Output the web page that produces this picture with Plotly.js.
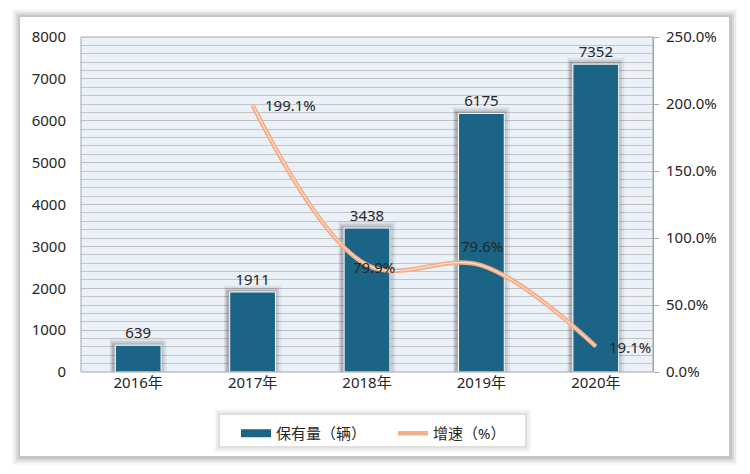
<!DOCTYPE html>
<html>
<head>
<meta charset="utf-8">
<script src="https://cdn.plot.ly/plotly-3.0.1.min.js"></script>
<style>html,body{margin:0;padding:0;background:#fff;}#chart{width:750px;height:474px;}</style>
</head>
<body>
<div id="chart"></div>
<script>
const years = ['2016年', '2017年', '2018年', '2019年', '2020年'];
const stock = [639, 1911, 3438, 6175, 7352];
const growthYears = ['2017年', '2018年', '2019年', '2020年'];
const growth = [199.1, 79.9, 79.6, 19.1];
const growthLabels = ['199.1%', '79.9%', '79.6%', '19.1%'];
const barName = '保有量（辆）';
const lineName = '增速（%）';

const FONT = "'Noto Sans', 'Noto Sans CJK SC', sans-serif";
const TXT = '#262626';
const FS = 15;

const traces = [];
// soft blurred shadows behind bars (offset towards the left/top)
[[0.50, -0.25, 150, 'rgba(0,0,0,0.06)'], [0.47, -0.24, 100, 'rgba(0,0,0,0.09)'], [0.44, -0.23, 50, 'rgba(0,0,0,0.13)']].forEach(s => {
  traces.push({
    type: 'bar', x: years, y: stock.map(v => v + s[2]), width: s[0], offset: s[1],
    marker: {color: s[3], line: {width: 0}}, showlegend: false, hoverinfo: 'skip'
  });
});
traces.push({
  type: 'bar', name: barName, x: years, y: stock, width: 0.4, offset: -0.2,
  marker: {color: '#1B6485', line: {color: '#ffffff', width: 1}},
  text: stock.map(String), textposition: 'outside', cliponaxis: false,
  textfont: {family: FONT, size: FS, color: TXT}, showlegend: false
});
// legend entry for the bars (wide flat swatch like the reference)
traces.push({
  type: 'scatter', mode: 'lines', name: barName, x: years, y: stock.map(() => null),
  line: {color: '#1B6485', width: 8}, hoverinfo: 'skip'
});
traces.push({
  type: 'scatter', mode: 'lines', name: lineName, x: growthYears, y: growth, yaxis: 'y2',
  line: {color: '#F5AF88', width: 4.5, shape: 'spline', smoothing: 1}
});
traces.push({
  type: 'scatter', mode: 'lines', x: growthYears, y: growth, yaxis: 'y2',
  line: {color: '#FDE8DA', width: 1, shape: 'spline', smoothing: 1},
  showlegend: false, hoverinfo: 'skip'
});

const px = v => (v - 81) / 572; // pixel x to paper
const py = v => (372 - v) / 335; // pixel y to paper
const shapes = [];
// outer frame shadow
[[8, 'rgba(0,0,0,0.03)'], [6, 'rgba(0,0,0,0.05)'], [4, 'rgba(0,0,0,0.07)'], [2, 'rgba(0,0,0,0.09)']].forEach(f => {
  shapes.push({type: 'rect', xref: 'paper', yref: 'paper', layer: 'below',
    x0: px(20 - f[0]), x1: px(729 + f[0] + 1), y0: py(456 + f[0] + 1), y1: py(17 - f[0]),
    fillcolor: f[1], line: {width: 0}});
});
shapes.push({type: 'rect', xref: 'paper', yref: 'paper', layer: 'below',
  x0: px(20), x1: px(729), y0: py(456), y1: py(17), fillcolor: '#ffffff', line: {width: 0}});
// legend box + shadow
[[6, 'rgba(0,0,0,0.03)'], [4, 'rgba(0,0,0,0.04)'], [2, 'rgba(0,0,0,0.06)']].forEach(f => {
  shapes.push({type: 'rect', xref: 'paper', yref: 'paper', layer: 'below',
    x0: px(220 - f[0]), x1: px(525 + f[0]), y0: py(446 + f[0]), y1: py(415 - f[0]),
    fillcolor: f[1], line: {width: 0}});
});
shapes.push({type: 'rect', xref: 'paper', yref: 'paper', layer: 'below',
  x0: px(220), x1: px(525), y0: py(446), y1: py(415), fillcolor: '#ffffff', line: {width: 0}});
// plot area background
shapes.push({type: 'rect', xref: 'paper', yref: 'paper', layer: 'below',
  x0: 0, x1: 1, y0: 0, y1: 1, fillcolor: '#EAF1F8', line: {width: 0}});
// plot border
shapes.push({type: 'rect', xref: 'paper', yref: 'paper', layer: 'above',
  x0: 0, x1: 1, y0: 0, y1: 1, line: {color: '#A6A6A6', width: 1}});

// line data labels, anchored to the data points
const labelShift = [[38, 0], [7, -2], [1, 19], [34, -1]];
const annotations = growthYears.map((yr, i) => ({
  x: yr, y: growth[i], xref: 'x', yref: 'y2', text: growthLabels[i], showarrow: false,
  xshift: labelShift[i][0], yshift: labelShift[i][1],
  font: {family: FONT, size: FS, color: TXT}
}));

const layout = {
  width: 750, height: 474,
  margin: {l: 81, r: 97, t: 37, b: 102},
  paper_bgcolor: 'rgba(0,0,0,0)', plot_bgcolor: 'rgba(0,0,0,0)',
  font: {family: FONT, size: FS, color: TXT},
  barmode: 'overlay', showlegend: true,
  xaxis: {type: 'category', showgrid: false, zeroline: false, showline: false,
    ticks: '', tickfont: {family: FONT, size: FS, color: TXT}, range: [-0.5, 4.5]},
  yaxis: {range: [0, 8000], dtick: 1000, tick0: 0, showgrid: true, gridcolor: '#BFBFBF', gridwidth: 1,
    minor: {dtick: 200, showgrid: true, gridcolor: '#C4C4C4', gridwidth: 1},
    zeroline: false, showline: false, ticks: '', ticklabelstandoff: 14,
    tickfont: {family: FONT, size: FS, color: TXT}},
  yaxis2: {overlaying: 'y', side: 'right', range: [0, 250], dtick: 50, tick0: 0,
    showgrid: false, zeroline: false, showline: true, linecolor: '#A6A6A6',
    ticks: 'outside', ticklen: 5, tickcolor: '#A6A6A6', ticksuffix: '%', tickformat: '.1f',
    ticklabelstandoff: 4,
    tickfont: {family: FONT, size: FS, color: TXT}},
  legend: {orientation: 'h', x: px(236), xanchor: 'left', y: py(417), yanchor: 'top',
    bgcolor: 'rgba(0,0,0,0)', borderwidth: 0, font: {family: FONT, size: FS, color: TXT},
    traceorder: 'normal', itemwidth: 30, entrywidth: 112},
  annotations: annotations,
  shapes: shapes
};

Plotly.newPlot('chart', traces, layout, {displayModeBar: false, staticPlot: true});
</script>
</body>
</html>
